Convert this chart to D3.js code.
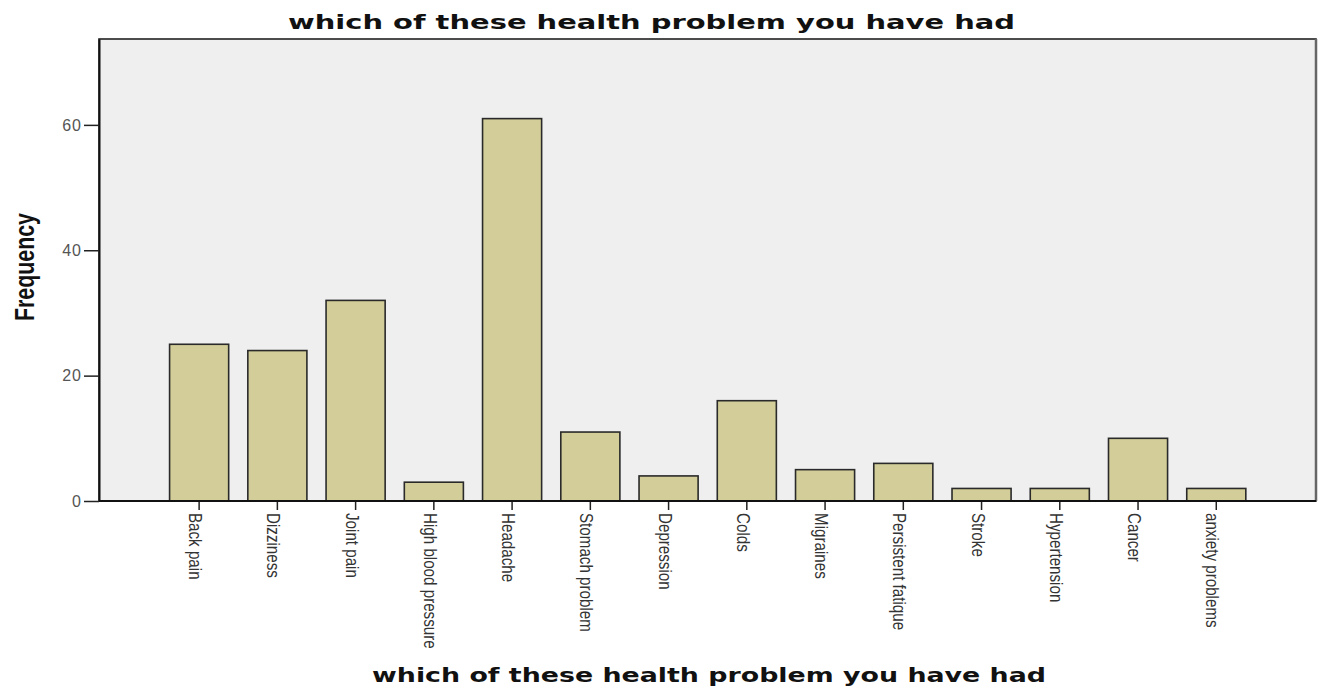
<!DOCTYPE html>
<html><head><meta charset="utf-8">
<script src="https://cdn.jsdelivr.net/npm/d3@7"></script>
<style>body{margin:0;background:#fff}</style>
</head><body>
<svg id="c" width="1321" height="686"></svg>
<script>
const categories = ["Back pain","Dizziness","Joint pain","High blood pressure","Headache","Stomach problem","Depression","Colds","Migraines","Persistent fatique","Stroke","Hypertension","Cancer","anxiety problems"];
const frequencies = [25,24,32,3,61,11,4,16,5,6,2,2,10,2];
const yTicks = [0,20,40,60];
const titleText = "which of these health problem you have had";
const xTitleText = "which of these health problem you have had";
const yTitleText = "Frequency";

const svg = d3.select("#c");
const plot = {left:99, right:1316, top:39, bottom:501};

const y = d3.scaleLinear().domain([0,73.7]).range([plot.bottom, plot.top]);
const x = d3.scaleBand().domain(categories).range([160,1255.4]).paddingInner(0.245).paddingOuter(0.1225);

// background
svg.append("rect").attr("x",plot.left).attr("y",plot.top)
  .attr("width",plot.right-plot.left).attr("height",plot.bottom-plot.top)
  .attr("fill","#efefef").attr("stroke","#222").attr("stroke-width",1.6);
// right shadow edge
svg.append("line").attr("x1",plot.right).attr("x2",plot.right).attr("y1",plot.top).attr("y2",plot.bottom)
  .attr("stroke","#666").attr("stroke-width",2.5);

// bars
svg.append("g").selectAll("rect").data(categories).join("rect")
  .attr("x",d=>x(d)).attr("width",x.bandwidth())
  .attr("y",(d,i)=>y(frequencies[i])).attr("height",(d,i)=>y(0)-y(frequencies[i]))
  .attr("fill","#d3ce99").attr("stroke","#2a2a2a").attr("stroke-width",1.6);

// y axis
const yAxis = d3.axisLeft(y).tickValues(yTicks).tickSize(15).tickSizeOuter(0).tickPadding(2).tickFormat(d3.format("d"));
const gy = svg.append("g").attr("transform",`translate(${plot.left},0)`).call(yAxis);
gy.select(".domain").attr("stroke","#111").attr("stroke-width",2);
gy.selectAll(".tick line").attr("stroke","#222").attr("stroke-width",1.5);
gy.selectAll(".tick text").attr("font-family","Liberation Sans, Arial, sans-serif").attr("font-size",16)
  .attr("letter-spacing","1px").attr("fill","#555");

// x axis
const xAxis = d3.axisBottom(x).tickSize(9).tickSizeOuter(0).tickPadding(0);
const gx = svg.append("g").attr("transform",`translate(0,${plot.bottom})`).call(xAxis);
gx.select(".domain").remove();
svg.append("line").attr("x1",plot.left).attr("x2",plot.right).attr("y1",plot.bottom).attr("y2",plot.bottom)
  .attr("stroke","#111").attr("stroke-width",2.2);
gx.selectAll(".tick line").attr("stroke","#222").attr("stroke-width",1.5);
gx.selectAll(".tick text")
  .attr("font-family","Liberation Sans, Arial, sans-serif").attr("font-size",18.5)
  .attr("fill","#333")
  .attr("text-anchor","start").attr("x",0).attr("y",0).attr("dy","10")
  .attr("transform","translate(0,12) rotate(90) scale(0.82,1)");

// titles
svg.append("text").attr("x",651.5).attr("y",29).attr("text-anchor","middle")
  .attr("font-family","DejaVu Sans, Verdana, sans-serif").attr("font-weight","bold").attr("font-size",19)
  .attr("textLength",727).attr("lengthAdjust","spacingAndGlyphs").attr("fill","#111").text(titleText);
svg.append("text").attr("x",709).attr("y",682).attr("text-anchor","middle")
  .attr("font-family","DejaVu Sans, Verdana, sans-serif").attr("font-weight","bold").attr("font-size",19)
  .attr("textLength",674).attr("lengthAdjust","spacingAndGlyphs").attr("fill","#111").text(xTitleText);
svg.append("text").attr("transform","translate(33.5,267) rotate(-90)").attr("text-anchor","middle")
  .attr("font-family","Liberation Sans, Arial, sans-serif").attr("font-weight","bold").attr("font-size",27)
  .attr("textLength",108).attr("lengthAdjust","spacingAndGlyphs").attr("fill","#111").text(yTitleText);
</script>
</body></html>
